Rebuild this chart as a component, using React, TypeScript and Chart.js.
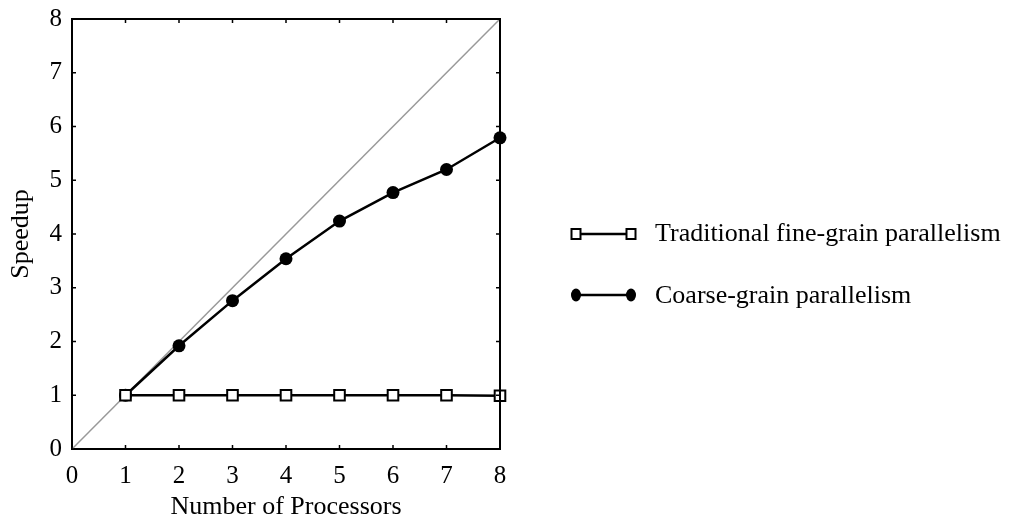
import { useEffect, useRef } from 'react';
import { Chart, registerables } from 'chart.js';

Chart.register(...registerables);

const PROCESSORS = [1, 2, 3, 4, 5, 6, 7, 8];
const FINE_GRAIN = [1, 1, 1, 1, 1, 1, 1, 0.99];
const COARSE_GRAIN = [1, 1.92, 2.76, 3.54, 4.24, 4.77, 5.2, 5.79];
const IDEAL_X = [0, 8];
const TICKS = [0, 1, 2, 3, 4, 5, 6, 7, 8];
const LEGEND_LABELS = ['Traditional fine-grain parallelism', 'Coarse-grain parallelism'];

const FONT = '"Liberation Serif", "Times New Roman", serif';

// inward tick marks on all four sides, right/top frame, titles and the legend
const decorations = {
  id: 'decorations',
  afterDraw(chart: Chart) {
    const { ctx, chartArea: a, scales } = chart;
    const x = scales.x;
    const y = scales.y;
    ctx.save();
    ctx.strokeStyle = '#000';
    ctx.lineWidth = 2;
    ctx.beginPath();
    ctx.moveTo(a.left, a.top);
    ctx.lineTo(a.right, a.top);
    ctx.lineTo(a.right, a.bottom);
    ctx.stroke();

    ctx.lineWidth = 1.5;
    ctx.beginPath();
    TICKS.forEach(v => {
      const px = x.getPixelForValue(v);
      const py = y.getPixelForValue(v);
      ctx.moveTo(px, a.bottom); ctx.lineTo(px, a.bottom - 4);
      ctx.moveTo(px, a.top); ctx.lineTo(px, a.top + 4);
      ctx.moveTo(a.left, py); ctx.lineTo(a.left + 4, py);
      ctx.moveTo(a.right, py); ctx.lineTo(a.right - 4, py);
    });
    ctx.stroke();

    ctx.fillStyle = '#000';
    ctx.font = `26px ${FONT}`;
    ctx.textAlign = 'center';
    ctx.textBaseline = 'alphabetic';
    ctx.fillText('Number of Processors', (a.left + a.right) / 2, 514);
    ctx.save();
    ctx.translate(28, (a.top + a.bottom) / 2);
    ctx.rotate(-Math.PI / 2);
    ctx.fillText('Speedup', 0, 0);
    ctx.restore();

    // legend
    const rows = [234, 295];
    const baselines = [241, 303];
    ctx.textAlign = 'left';
    rows.forEach((ry, i) => {
      ctx.lineWidth = 2.5;
      ctx.beginPath();
      ctx.moveTo(576, ry);
      ctx.lineTo(631, ry);
      ctx.stroke();
      [576, 631].forEach(mx => {
        ctx.lineWidth = 2;
        if (i === 0) {
          ctx.fillStyle = '#fff';
          ctx.fillRect(mx - 4.5, ry - 5, 9, 10);
          ctx.strokeRect(mx - 4.5, ry - 5, 9, 10);
        } else {
          ctx.fillStyle = '#000';
          ctx.beginPath();
          ctx.ellipse(mx, ry, 5, 6.5, 0, 0, Math.PI * 2);
          ctx.fill();
        }
      });
      ctx.fillStyle = '#000';
      ctx.fillText(LEGEND_LABELS[i], 655, baselines[i]);
    });
    ctx.restore();
  },
};

export default function App() {
  const canvasRef = useRef<HTMLCanvasElement>(null);

  useEffect(() => {
    document.body.style.margin = '0';
    if (!canvasRef.current) return;
    const chart = new Chart(canvasRef.current, {
      type: 'line',
      data: {
        datasets: [
          {
            label: 'ideal',
            data: IDEAL_X.map(v => ({ x: v, y: v })),
            borderColor: '#999',
            borderWidth: 1.5,
            pointRadius: 0,
            order: 3,
          },
          {
            label: LEGEND_LABELS[1],
            data: PROCESSORS.map((p, i) => ({ x: p, y: COARSE_GRAIN[i] })),
            borderColor: '#000',
            borderWidth: 2.5,
            pointStyle: 'circle',
            pointRadius: 6.5,
            pointBackgroundColor: '#000',
            pointBorderColor: '#000',
            pointBorderWidth: 0,
            clip: false,
            order: 2,
          },
          {
            label: LEGEND_LABELS[0],
            data: PROCESSORS.map((p, i) => ({ x: p, y: FINE_GRAIN[i] })),
            borderColor: '#000',
            borderWidth: 2.5,
            pointStyle: 'rect',
            pointRadius: 7.5,
            pointBackgroundColor: '#fff',
            pointBorderColor: '#000',
            pointBorderWidth: 2,
            clip: false,
            order: 1,
          },
        ],
      },
      options: {
        responsive: false,
        animation: false,
        layout: { padding: { left: 0, top: 19, right: 516, bottom: 0 } },
        plugins: { legend: { display: false }, tooltip: { enabled: false } },
        scales: {
          x: {
            type: 'linear',
            min: 0,
            max: 8,
            afterFit: (s: any) => { s.height = 72; s.paddingLeft = 0; s.paddingRight = 0; },
            afterBuildTicks: (s: any) => { s.ticks = TICKS.map(v => ({ value: v })); },
            grid: { display: false, drawTicks: false },
            border: { display: true, color: '#000', width: 2 },
            ticks: { color: '#000', padding: 12, font: { family: FONT, size: 25 } },
          },
          y: {
            type: 'linear',
            min: 0,
            max: 8,
            afterFit: (s: any) => { s.width = 72; s.paddingTop = 0; s.paddingBottom = 0; },
            afterBuildTicks: (s: any) => { s.ticks = TICKS.map(v => ({ value: v })); },
            grid: { display: false, drawTicks: false },
            border: { display: true, color: '#000', width: 2 },
            ticks: { color: '#000', padding: 10, font: { family: FONT, size: 25 } },
          },
        },
      },
      plugins: [decorations],
    });
    return () => chart.destroy();
  }, []);

  return <canvas ref={canvasRef} width={1016} height={521} />;
}
